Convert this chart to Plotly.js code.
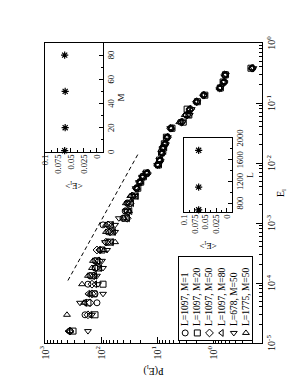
<!DOCTYPE html>
<html><head><meta charset="utf-8">
<script src="https://cdn.plot.ly/plotly-3.0.1.min.js"></script>
<style>
html,body{margin:0;padding:0;background:#fff;overflow:hidden;width:298px;height:385px;}
#wrap{position:absolute;left:0;top:0;width:385px;height:298px;transform-origin:0 0;transform:translate(0px,385px) rotate(-90deg);}
</style></head><body>
<div id="wrap"><div id="chart" style="width:385px;height:298px;"></div></div>
<script>
// ---- data ----
var energies = [1.58e-5, 2.95e-5, 4.68e-5, 6.6e-5, 9.55e-5, 1.32e-4, 1.78e-4, 2.34e-4, 3.55e-4, 4.8e-4, 7.1e-4, 9.3e-4,
  1.2e-3, 1.58e-3, 2.14e-3, 2.82e-3, 3.8e-3, 4.8e-3, 5.9e-3, 6.8e-3, 9.3e-3, 1.12e-2, 1.48e-2, 1.78e-2, 2.09e-2, 2.69e-2,
  3.8e-2, 4.8e-2, 6.3e-2, 7.9e-2, 0.105, 0.135, 0.178, 0.224, 0.295, 0.38];
var seriesNames = ['L=1097, M=1', 'L=1097, M=20', 'L=1097, M=50', 'L=1097, M=80', 'L=678, M=50', 'L=1775, M=50'];
var pL1097M1  = [358, 193, 118, 128, 171, 157, 128, 128, 104, 75, 75, 92, 40.5, 37, 34, 27,
  23, 20, 18, 15, 9.6, 8.8, 8.1, 7.8, 7.2, 6.6, 5.6, 3.8, 3.0, 2.6, 1.95, 1.45, 0.75, 0.64, 0.61, 0.20];
var pL1097M20 = [316, 128, 171, 133, 92, 145, 113, 118, 96, 69, 64, 69, 37, 34, 31.6, 25,
  22, 19.5, 17.5, 15.5, 9.4, 9.0, 8.3, 7.6, 7.4, 6.8, 5.4, 3.4, 2.7, 2.9, 1.9, 1.4, 0.74, 0.66, 0.6, 0.21];
var pL1097M50 = [358, 171, 157, 145, 145, 133, 123, 109, 118, 81.5, 69, 75, 34, 33, 30, 28,
  23.5, 20.5, 18.2, 14.8, 9.8, 8.7, 8.0, 7.9, 7.1, 6.5, 5.7, 3.6, 2.9, 2.5, 1.98, 1.48, 0.76, 0.63, 0.62, 0.20];
var pL1097M80 = [388, 157, 193, 171, 128, 128, 104, 113, 109, 64, 59, 64, 33, 30, 28, 23,
  22.5, 19.8, 17.6, 15.2, 9.5, 8.9, 8.2, 7.7, 7.3, 6.7, 5.5, 3.7, 3.1, 2.7, 2.0, 1.5, 0.75, 0.65, 0.6, 0.2];
var pL678M50  = [171, 145, 237, 92, 113, 118, 92, 96, 78, 85, 56, 56, 48, 36, 33, 25,
  24, 21, 18.5, 15.8, 9.9, 9.1, 8.4, 7.9, 7.0, 6.4, 5.8, 3.5, 2.6, 2.4, 1.9, 1.43, 0.73, 0.63, 0.59, 0.19];
var pL1775M50 = [358, 405, 201, 157, 218, 171, 145, 139, 88, 56, 81.5, 81.5, 39, 31.6, 36, 30,
  23, 20, 17.9, 15.0, 9.7, 8.8, 8.0, 7.8, 7.2, 6.6, 5.6, 4.0, 3.2, 2.6, 1.96, 1.46, 0.76, 0.64, 0.61, 0.20];
var guideE = [1.1e-4, 1.5e-2];
var guideP = [390, 21];
var insetM = [1, 20, 50, 80];
var insetMmean = [0.062, 0.061, 0.061, 0.062];
var insetL = [678, 1097, 1775];
var insetLmean = [0.066, 0.066, 0.066];
var eTickVals = [1e-5, 1e-4, 1e-3, 1e-2, 1e-1, 1];
var eTickText = ['10<sup>-5</sup>', '10<sup>-4</sup>', '10<sup>-3</sup>', '10<sup>-2</sup>', '10<sup>-1</sup>', '10<sup>0</sup>'];
var pTickVals = [1, 10, 100, 1000];
var pTickText = ['10<sup>0</sup>', '10<sup>1</sup>', '10<sup>2</sup>', '10<sup>3</sup>'];
var meanTickVals = [0, 0.025, 0.05, 0.075, 0.1];
var meanTickText = ['0', '0.025', '0.05', '0.075', '0.1'];
var lTickVals = [800, 1200, 1600, 2000];

// ---- traces ----
var F = 'Liberation Serif, Times New Roman, serif';
var symbols = ['circle-open', 'square-open', 'diamond-open', 'triangle-up-open', 'triangle-left-open', 'triangle-right-open'];
var pSeries = [pL1097M1, pL1097M20, pL1097M50, pL1097M80, pL678M50, pL1775M50];
var traces = [];
for (var i = 0; i < pSeries.length; i++) {
  traces.push({x: energies, y: pSeries[i], type: 'scatter', mode: 'markers', name: seriesNames[i],
    marker: {symbol: symbols[i], size: 6, color: 'black', line: {width: 1, color: 'black'}}});
}
traces.push({x: guideE, y: guideP, type: 'scatter', mode: 'lines',
  line: {color: 'black', width: 1, dash: '4px,3px'}});
traces.push({x: insetM, y: insetMmean, xaxis: 'x2', yaxis: 'y2', type: 'scatter', mode: 'markers',
  cliponaxis: false, marker: {symbol: 'asterisk-open', size: 6, color: 'black', line: {width: 1.2, color: 'black'}}});
traces.push({x: insetL, y: insetLmean, xaxis: 'x3', yaxis: 'y3', type: 'scatter', mode: 'markers',
  cliponaxis: false, marker: {symbol: 'asterisk-open', size: 6, color: 'black', line: {width: 1.2, color: 'black'}}});

// legend drawn as a small box subplot: one marker + one text per series
var n = seriesNames.length;
var legX = [], legY = [], annotations = [];
for (var j = 0; j < n; j++) {
  legX.push(0.85); legY.push(n - 0.5 - j);
  annotations.push({xref: 'x4', yref: 'y4', x: 1.5, y: n - 0.5 - j, xanchor: 'left', yanchor: 'middle',
    text: seriesNames[j], showarrow: false, font: {family: F, size: 9.5, color: 'black'}});
}
traces.push({x: legX, y: legY, xaxis: 'x4', yaxis: 'y4', type: 'scatter', mode: 'markers', cliponaxis: false,
  marker: {symbol: symbols, size: 6, color: 'black', line: {width: 1, color: 'black'}}});

function ax(extra) {
  var a = {showline: true, linecolor: 'black', linewidth: 1, mirror: true, ticks: 'inside', tickcolor: 'black',
    showgrid: false, zeroline: false, tickfont: {family: F, size: 10, color: 'black'}};
  for (var k in extra) a[k] = extra[k];
  return a;
}
var smallFont = {family: F, size: 8.5, color: 'black'};
var layout = {
  width: 385, height: 298,
  margin: {l: 42, r: 43, t: 45, b: 36, pad: 0},
  paper_bgcolor: 'white', plot_bgcolor: 'white',
  font: {family: F, color: 'black'},
  showlegend: false,
  annotations: annotations,
  xaxis: ax({type: 'log', range: [-5, 0], domain: [0, 1], anchor: 'y', tickmode: 'array', tickvals: eTickVals, ticktext: eTickText,
    ticklen: 6, minor: {ticks: 'inside', ticklen: 3, dtick: 'D1', tickcolor: 'black'},
    title: {text: 'E<sub>l</sub>', font: {family: F, size: 10}, standoff: 0}}),
  yaxis: ax({type: 'log', range: [-0.875, 3], domain: [0, 1], anchor: 'x', tickmode: 'array', tickvals: pTickVals, ticktext: pTickText,
    ticklen: 6, minor: {ticks: 'inside', ticklen: 3, dtick: 'D1', tickcolor: 'black'},
    title: {text: 'P(E<sub>l</sub>)', font: {family: F, size: 10}, standoff: 5}}),
  xaxis2: ax({range: [0, 90], domain: [0.637, 1], anchor: 'y2', dtick: 20, tick0: 0, ticklen: 4,
    minor: {ticks: 'inside', ticklen: 2, dtick: 10, tickcolor: 'black'}, tickfont: smallFont,
    title: {text: 'M', font: {family: F, size: 9}, standoff: 1}}),
  yaxis2: ax({range: [-0.012, 0.1], domain: [0.733, 1], anchor: 'x2', tickmode: 'array', tickvals: meanTickVals, ticktext: meanTickText,
    ticklen: 4, minor: {ticks: 'inside', ticklen: 2, dtick: 0.0125, tick0: 0, tickcolor: 'black'}, tickfont: smallFont,
    title: {text: '&lt;E<sub>l</sub>&gt;', font: {family: F, size: 9}, standoff: 7}}),
  xaxis3: ax({range: [640, 2000], domain: [0.437, 0.683], anchor: 'y3', tickmode: 'array', tickvals: lTickVals, ticklen: 4,
    minor: {ticks: 'inside', ticklen: 2, dtick: 200, tick0: 0, tickcolor: 'black'}, tickfont: smallFont,
    title: {text: 'L', font: {family: F, size: 9}, standoff: 1}}),
  yaxis3: ax({range: [-0.012, 0.1], domain: [0.138, 0.359], anchor: 'x3', tickmode: 'array', tickvals: meanTickVals, ticktext: meanTickText,
    ticklen: 4, minor: {ticks: 'inside', ticklen: 2, dtick: 0.0125, tick0: 0, tickcolor: 'black'}, tickfont: smallFont,
    title: {text: '&lt;E<sub>l</sub>&gt;', font: {family: F, size: 9}, standoff: 7}}),
  xaxis4: {range: [0, 10], domain: [0.01, 0.287], anchor: 'y4', showline: true, mirror: true, linecolor: 'black', linewidth: 1,
    ticks: '', showticklabels: false, showgrid: false, zeroline: false, fixedrange: true},
  yaxis4: {range: [0, 6], domain: [0.046, 0.382], anchor: 'x4', showline: true, mirror: true, linecolor: 'black', linewidth: 1,
    ticks: '', showticklabels: false, showgrid: false, zeroline: false, fixedrange: true}
};
Plotly.newPlot('chart', traces, layout, {displayModeBar: false, staticPlot: true});
</script>
</body></html>
